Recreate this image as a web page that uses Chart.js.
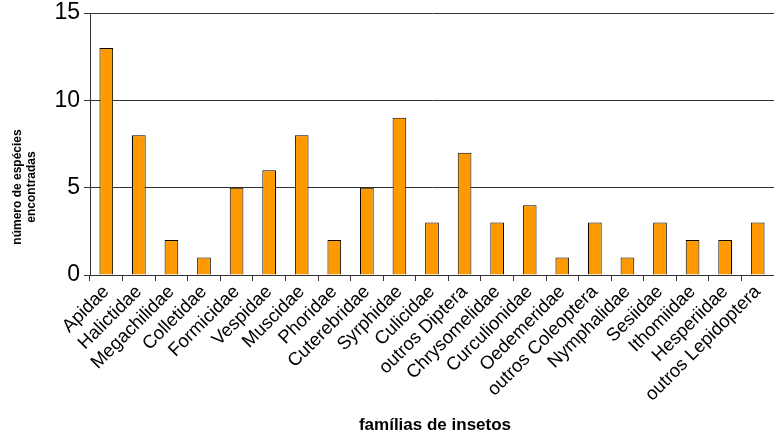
<!DOCTYPE html>
<html>
<head>
<meta charset="utf-8">
<script src="https://cdn.jsdelivr.net/npm/chart.js@4"></script>
<style>
  html, body { margin: 0; padding: 0; background: #fff; }
  #wrap { width: 774px; height: 440px; }
</style>
</head>
<body>
<div id="wrap"><canvas id="chart" width="774" height="440"></canvas></div>
<script>
const familias = ["Apidae", "Halictidae", "Megachilidae", "Colletidae", "Formicidae", "Vespidae",
    "Muscidae", "Phoridae", "Cuterebridae", "Syrphidae", "Culicidae", "outros Diptera",
    "Chrysomelidae", "Curculionidae", "Oedemeridae", "outros Coleoptera", "Nymphalidae",
    "Sesiidae", "Ithomiidae", "Hesperiidae", "outros Lepidoptera"];
const especies = [13, 8, 2, 1, 5, 6, 8, 2, 5, 9, 3, 7, 3, 4, 1, 3, 1, 3, 2, 2, 3];
const yTicks = [0, 5, 10, 15];
const yTitle = ["número de espécies", "encontradas"];
const xTitle = "famílias de insetos";

const titles = {
    id: "titles",
    afterDraw(chart) {
        const ctx = chart.ctx;
        ctx.save();
        ctx.fillStyle = "#000";
        ctx.textAlign = "center";
        ctx.textBaseline = "middle";
        ctx.font = "bold 17px 'Liberation Sans', Arial, sans-serif";
        ctx.fillText(xTitle, 435, 425);
        ctx.translate(25, 187);
        ctx.rotate(-Math.PI / 2);
        ctx.font = "bold 12px 'Liberation Sans', Arial, sans-serif";
        ctx.fillText(yTitle[0], 0, -7);
        ctx.fillText(yTitle[1], 0, 7);
        ctx.restore();
    }
};

new Chart(document.getElementById("chart"), {
    type: "bar",
    data: {
        labels: familias,
        datasets: [{
            data: especies,
            backgroundColor: "#FF9900",
            borderColor: "#000",
            borderWidth: 1,
            barPercentage: 0.42,
            categoryPercentage: 1
        }]
    },
    options: {
        responsive: false,
        animation: false,
        layout: { padding: { top: 13, right: 0, left: 0, bottom: 0 } },
        plugins: { legend: { display: false }, tooltip: { enabled: false } },
        scales: {
            x: {
                afterFit: s => { s.height = 165; },
                grid: { offset: true, drawOnChartArea: false, drawTicks: true, tickLength: 6, color: "#333" },
                border: { color: "#333" },
                ticks: {
                    minRotation: 45, maxRotation: 45, autoSkip: false, padding: 0,
                    color: "#000",
                    font: { family: "'Liberation Sans', Arial, sans-serif", size: 18.5 }
                }
            },
            y: {
                min: 0, max: 15,
                afterFit: s => { s.width = 90; s.paddingTop = 0; },
                afterBuildTicks: s => { s.ticks = yTicks.map(v => ({ value: v })); },
                grid: { color: "#333", tickLength: 6 },
                border: { color: "#333" },
                ticks: {
                    color: "#000", padding: 4,
                    font: { family: "'Liberation Sans', Arial, sans-serif", size: 23, lineHeight: 1 }
                }
            }
        }
    },
    plugins: [titles]
});
</script>
</body>
</html>
